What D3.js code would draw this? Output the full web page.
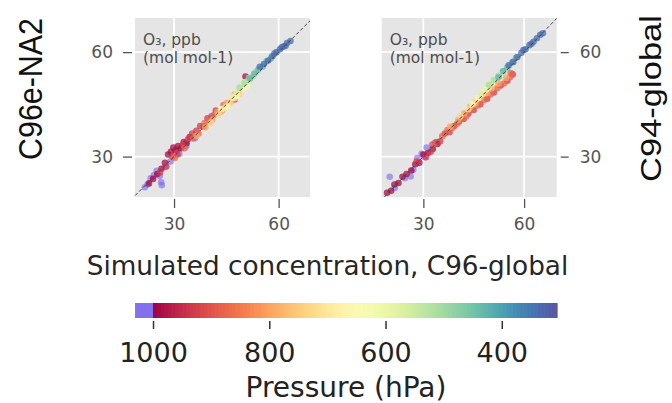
<!DOCTYPE html>
<html>
<head>
<meta charset="utf-8">
<script src="https://cdn.jsdelivr.net/npm/d3@7"></script>
<style>
  body { margin: 0; background: #fff; }
  svg { display: block; }
</style>
</head>
<body>
<svg id="chart" width="672" height="403"></svg>
<script>
// pressure levels used for each group of points (hPa)
const groupPressure = [1015, 990, 930, 875, 795, 720, 650, 580, 505, 430, 335];

// left panel: x = C96-global, y = C96e-NA2, grouped by pressure level
const leftX = [
  [21.6, 22.4, 23.3, 24.2, 25.0, 25.9, 26.3, 26.5, 27.5, 29.0, 31.5, 33.5, 36.0],
  [22.8, 24.0, 25.2, 26.4, 27.4, 28.3, 29.1, 29.8, 30.5, 31.2, 32.0, 32.8, 33.6, 34.5, 50.5],
  [26.0, 27.8, 29.5, 31.0, 32.5, 34.0, 35.2, 36.4, 37.5, 38.5, 39.6, 40.8, 42.0, 47.4],
  [30.2, 33.0, 35.5, 37.0, 38.8, 40.2, 41.5, 43.0, 44.2],
  [36.5, 39.0, 41.0, 42.5, 43.8, 45.0, 46.2, 47.4, 48.6],
  [40.5, 42.8, 44.6, 46.0, 47.5, 49.0],
  [43.5, 45.2, 46.8, 48.2, 49.6, 50.8],
  [46.5, 48.0, 49.4, 50.6, 51.8],
  [48.8, 50.2, 51.5, 52.6, 53.6],
  [51.8, 53.0, 54.2, 55.4, 56.6, 57.8],
  [54.6, 55.8, 57.0, 58.2, 59.4, 60.4, 61.4, 62.4, 63.4, 58.8, 60.9, 62.0]
];
const leftY = [
  [21.2, 22.0, 23.8, 24.6, 25.9, 24.4, 22.6, 21.8, 27.0, 28.6, 30.8, 33.0, 35.3],
  [22.3, 23.6, 25.0, 26.5, 28.2, 30.6, 31.4, 32.6, 31.8, 33.0, 32.4, 34.2, 33.8, 35.6, 53.0],
  [25.4, 27.2, 30.0, 30.6, 33.4, 35.0, 36.6, 37.4, 38.8, 38.6, 41.0, 41.6, 43.2, 46.4],
  [29.6, 32.4, 35.2, 36.6, 39.6, 40.0, 42.0, 42.6, 44.8],
  [36.0, 38.4, 40.6, 42.8, 43.2, 45.4, 45.6, 47.8, 48.0],
  [39.6, 42.0, 44.0, 45.0, 46.8, 48.4],
  [43.6, 44.4, 46.8, 47.4, 49.6, 50.2],
  [47.2, 48.6, 50.4, 51.4, 52.0],
  [49.8, 51.2, 52.6, 53.0, 54.4],
  [52.4, 53.8, 55.0, 55.8, 57.4, 58.2],
  [55.8, 56.6, 57.6, 58.8, 60.0, 60.8, 61.6, 62.6, 63.2, 59.6, 61.4, 61.8]
];

// right panel: x = C96-global, y = C94-global
const rightX = [
  [20.0, 21.5, 24.5, 26.2, 27.0, 28.2, 29.5, 31.0, 32.6, 34.0, 30.4],
  [19.2, 20.4, 21.4, 22.6, 23.8, 25.0, 26.4, 27.6, 28.8, 30.0, 31.4, 32.8, 34.2],
  [28.0, 30.8, 32.2, 33.6, 35.0, 36.4, 37.8, 39.2, 40.6, 42.0, 43.4, 45.0, 47.0, 49.0, 51.0, 53.0, 55.0, 56.6],
  [33.0, 35.6, 37.2, 38.6, 40.0, 41.4, 42.8, 44.2, 46.0, 48.0, 50.0, 52.0, 54.0, 55.8, 56.0],
  [38.0, 40.4, 42.2, 44.0, 45.6, 47.2, 48.8, 50.4, 52.4, 54.6],
  [41.0, 43.4, 45.2, 47.6, 49.6],
  [44.6, 46.4, 48.6, 50.4],
  [47.0, 48.6, 50.2, 51.6],
  [49.6, 51.0, 52.4, 53.6],
  [52.4, 53.8, 55.0, 56.4, 57.6],
  [55.4, 56.8, 58.0, 59.2, 60.4, 61.6, 62.8, 63.8, 64.8, 59.8, 62.2, 65.6]
];
const rightY = [
  [24.2, 21.0, 23.8, 24.3, 26.2, 29.6, 30.8, 32.6, 33.4, 34.2, 29.8],
  [19.6, 20.2, 22.0, 22.4, 24.2, 25.0, 26.0, 27.8, 28.2, 30.6, 31.0, 32.2, 33.6],
  [28.6, 29.8, 31.4, 34.0, 34.4, 36.6, 37.0, 38.8, 40.0, 40.8, 42.4, 43.4, 45.0, 46.6, 48.4, 50.4, 51.8, 53.6],
  [33.6, 35.8, 37.6, 38.2, 39.4, 41.2, 41.6, 43.6, 44.6, 46.2, 47.8, 49.6, 51.0, 52.8, 54.0],
  [38.6, 40.6, 42.4, 44.4, 45.4, 47.2, 48.2, 49.6, 51.0, 52.6],
  [41.6, 43.6, 45.8, 48.0, 50.0],
  [45.0, 46.8, 49.2, 51.0],
  [47.8, 49.6, 51.2, 52.4],
  [50.6, 52.0, 53.2, 54.4],
  [52.8, 54.6, 55.6, 57.0, 58.4],
  [56.2, 57.2, 58.6, 59.8, 60.8, 62.0, 63.0, 64.0, 65.0, 60.6, 62.4, 65.4]
];

const gridTicks = [30, 60];
const cbarTicks = [1000, 800, 600, 400];
const cbarRange = [1031, 305];

const svg = d3.select("#chart");

const color = d3.scaleSequential([1000, 300], d3.interpolateSpectral);
const underColor = "#7b68ee";
const pColor = p => p > 1000 ? underColor : color(p);

const panelTop = 18, panelBottom = 197;

// soften the markers a little, like the blurry scatter in the figure
const defs = svg.append("defs");
defs.append("filter").attr("id", "soft")
  .attr("x", "-10%").attr("y", "-10%").attr("width", "120%").attr("height", "120%")
  .append("feGaussianBlur").attr("stdDeviation", 0.7);

function flatten(xs, ys) {
  const pts = [];
  xs.forEach((row, g) => row.forEach((v, i) => pts.push({ x: v, y: ys[g][i], p: groupPressure[g] })));
  return pts;
}

function drawPanel(left, right, xDomain, xs, ys, side) {
  const x = d3.scaleLinear(xDomain, [left, right]);
  const y = d3.scaleLinear([18.4, 69.8], [panelBottom, panelTop]);
  const g = svg.append("g");

  g.append("rect")
    .attr("x", left).attr("y", panelTop)
    .attr("width", right - left).attr("height", panelBottom - panelTop)
    .attr("fill", "#e5e5e5");

  g.selectAll(".vgrid").data(gridTicks).join("line")
    .attr("x1", d => x(d)).attr("x2", d => x(d))
    .attr("y1", panelTop).attr("y2", panelBottom)
    .attr("stroke", "#fff").attr("stroke-width", 1.8);
  g.selectAll(".hgrid").data(gridTicks).join("line")
    .attr("y1", d => y(d)).attr("y2", d => y(d))
    .attr("x1", left).attr("x2", right)
    .attr("stroke", "#fff").attr("stroke-width", 1.8);

  const clipId = "clip" + side;
  defs.append("clipPath").attr("id", clipId).append("rect")
    .attr("x", left).attr("y", panelTop)
    .attr("width", right - left).attr("height", panelBottom - panelTop);

  const lo = Math.max(xDomain[0], 18.4), hi = Math.min(xDomain[1], 69.8);
  const pts = flatten(xs, ys);

  g.append("g").attr("clip-path", `url(#${clipId})`)
    .append("g").attr("filter", "url(#soft)")
    .selectAll("circle").data(pts).join("circle")
    .attr("cx", d => x(d.x)).attr("cy", d => y(d.y))
    .attr("r", 3.3)
    .attr("fill", d => pColor(d.p))
    .attr("fill-opacity", d => d.p > 1000 ? 0.6 : 0.75);

  g.append("line")
    .attr("x1", x(lo)).attr("y1", y(lo))
    .attr("x2", x(hi)).attr("y2", y(hi))
    .attr("stroke", "#444").attr("stroke-width", 1)
    .attr("stroke-dasharray", "3.5,2.2");

  // annotation
  g.append("text")
    .attr("x", left + 8).attr("y", 44.5)
    .attr("font-family", "DejaVu Sans").attr("font-size", 15.5)
    .attr("fill", "#4d4d4d")
    .text("O\u2083, ppb");
  g.append("text")
    .attr("x", left + 8).attr("y", 62.5)
    .attr("font-family", "DejaVu Sans").attr("font-size", 15.5)
    .attr("fill", "#4d4d4d")
    .text("(mol mol-1)");

  // axes
  const xAxis = g.append("g")
    .attr("transform", `translate(0,${panelBottom + 2})`)
    .call(d3.axisBottom(x).tickValues(gridTicks).tickSize(9).tickPadding(10));
  const yAxis = side === "L"
    ? g.append("g").attr("transform", `translate(${left - 3},0)`)
        .call(d3.axisLeft(y).tickValues(gridTicks).tickSize(9).tickPadding(10))
    : g.append("g").attr("transform", `translate(${right + 4},0)`)
        .call(d3.axisRight(y).tickValues(gridTicks).tickSize(8).tickPadding(11));
  [xAxis, yAxis].forEach(a => {
    a.select(".domain").remove();
    a.selectAll(".tick line").attr("stroke", "#555").attr("stroke-width", 1.3);
    a.selectAll(".tick text")
      .attr("font-family", "DejaVu Sans").attr("font-size", 17)
      .attr("fill", "#555");
  });
}

drawPanel(135, 310, [18.8, 69.0], leftX, leftY, "L");
drawPanel(381.7, 556.7, [17.6, 69.7], rightX, rightY, "R");

// y titles
svg.append("text")
  .attr("transform", "translate(41.5,89) rotate(-90)")
  .attr("text-anchor", "middle")
  .attr("font-family", "Liberation Sans").attr("font-size", 33)
  .attr("fill", "#111")
  .attr("textLength", 142).attr("lengthAdjust", "spacingAndGlyphs")
  .text("C96e-NA2");
svg.append("text")
  .attr("transform", "translate(661,98.5) rotate(-90)")
  .attr("text-anchor", "middle")
  .attr("font-family", "Liberation Sans").attr("font-size", 30)
  .attr("fill", "#111")
  .attr("textLength", 167).attr("lengthAdjust", "spacingAndGlyphs")
  .text("C94-global");

// x title
svg.append("text")
  .attr("x", 327.5).attr("y", 275)
  .attr("text-anchor", "middle")
  .attr("font-family", "DejaVu Sans").attr("font-size", 26.3)
  .attr("fill", "#262626")
  .text("Simulated concentration, C96-global");

// colorbar
const cx = d3.scaleLinear(cbarRange, [135, 557]);
const cbarY = 303, cbarH = 15;
const steps = d3.range(cbarRange[0], cbarRange[1], -1);
svg.append("g").selectAll("rect").data(steps).join("rect")
  .attr("x", d => cx(d)).attr("y", cbarY)
  .attr("width", d => cx(d - 1) - cx(d) + 0.6).attr("height", cbarH)
  .attr("fill", d => d > 1000 ? underColor : color(d))
  .attr("fill-opacity", d => d > 1000 ? 0.85 : 1);

const cAxis = svg.append("g")
  .attr("transform", `translate(0,${cbarY + cbarH + 3})`)
  .call(d3.axisBottom(cx).tickValues(cbarTicks).tickSize(8).tickPadding(14).tickFormat(d3.format("d")));
cAxis.select(".domain").remove();
cAxis.selectAll(".tick line").attr("stroke", "#333").attr("stroke-width", 1.5);
cAxis.selectAll(".tick text")
  .attr("font-family", "DejaVu Sans").attr("font-size", 27)
  .attr("fill", "#222");

svg.append("text")
  .attr("x", 346).attr("y", 397)
  .attr("text-anchor", "middle")
  .attr("font-family", "DejaVu Sans").attr("font-size", 28)
  .attr("fill", "#222")
  .text("Pressure (hPa)");
</script>
</body>
</html>
